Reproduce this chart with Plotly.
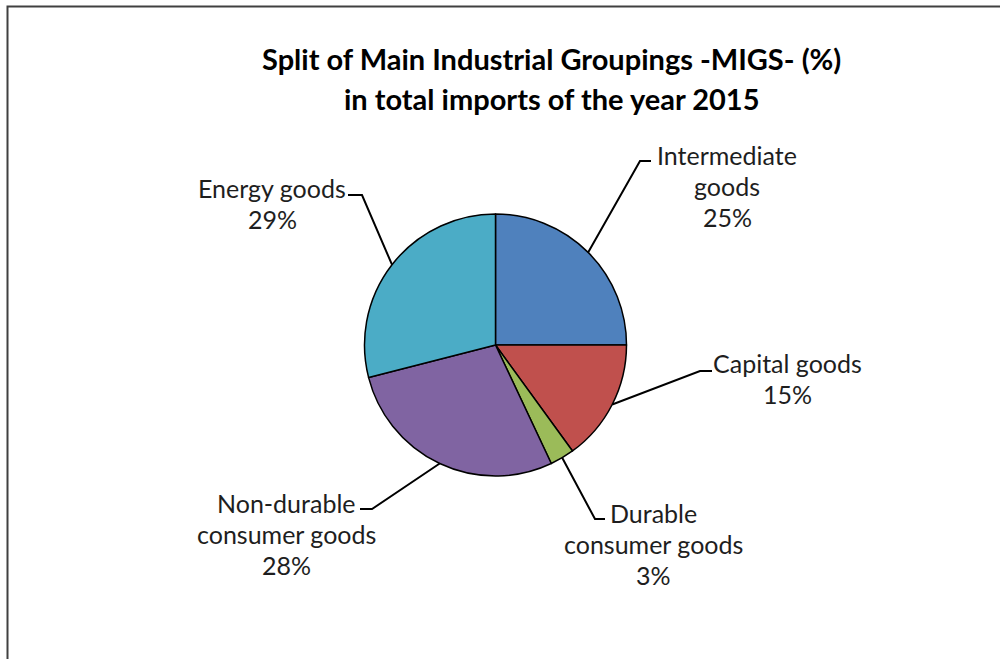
import math
import plotly.graph_objects as go

# ---- data ----
categories = ["Intermediate goods", "Capital goods", "Durable consumer goods",
              "Non-durable consumer goods", "Energy goods"]
shares = [25, 15, 3, 28, 29]
label_lines = [["Intermediate", "goods"], ["Capital goods"], ["Durable", "consumer goods"],
               ["Non-durable", "consumer goods"], ["Energy goods"]]
colors = ["#4F81BD", "#C0504D", "#9BBB59", "#8064A2", "#4BACC6"]
title_lines = ["Split of Main Industrial Groupings -MIGS- (%)",
               "in total imports of the year 2015"]

# ---- layout / style (pixels) ----
W, H = 1000, 659
CX, CY, R = 495.5, 345.0, 131.0
# per-slice: elbow point, end of horizontal tick, label block centre x, first-line y
label_style = [
    dict(elbow=(640, 161), end=(651, 161), x=727, y0=155),
    dict(elbow=(700, 371), end=(712, 371), x=787, y0=363),
    dict(elbow=(595, 519), end=(605, 519), x=653, y0=513),
    dict(elbow=(372, 509), end=(360, 509), x=286, y0=503),
    dict(elbow=(362, 195), end=(348, 195), x=272, y0=188),
]
LINE_H = 31
FONT = "Lato"


def px(x):
    return x / W


def py(y):
    return 1 - y / H


fig = go.Figure()
fig.add_trace(go.Pie(
    labels=categories, values=shares, sort=False, direction="clockwise", rotation=0,
    marker=dict(colors=colors, line=dict(color="black", width=1.5)),
    textinfo="none", hoverinfo="label+percent", showlegend=False,
    domain=dict(x=[px(CX - R), px(CX + R)], y=[py(CY + R), py(CY - R)]),
))

shapes = []
annotations = []
total = sum(shares)
cum = 0.0
for i, v in enumerate(shares):
    mid = (cum + v / 2) / total * 2 * math.pi
    cum += v
    ex = CX + R * math.sin(mid)
    ey = CY - R * math.cos(mid)
    st = label_style[i]
    path = "M {:.4f},{:.4f} L {:.4f},{:.4f} L {:.4f},{:.4f}".format(
        px(ex), py(ey), px(st["elbow"][0]), py(st["elbow"][1]),
        px(st["end"][0]), py(st["end"][1]))
    shapes.append(dict(type="path", path=path, xref="paper", yref="paper",
                       line=dict(color="black", width=2)))
    lines = label_lines[i] + ["{}%".format(v)]
    for j, t in enumerate(lines):
        annotations.append(dict(
            text=t, x=px(st["x"]), y=py(st["y0"] + j * LINE_H), xref="paper", yref="paper",
            xanchor="center", yanchor="middle", showarrow=False,
            font=dict(family=FONT, size=25, color="#1e1e1e")))

for j, t in enumerate(title_lines):
    annotations.append(dict(
        text="<b>{}</b>".format(t), x=px(551), y=py(58 + j * 40), xref="paper", yref="paper",
        xanchor="center", yanchor="middle", showarrow=False,
        font=dict(family=FONT, size=29, color="black")))

# chart frame (top and left edges visible)
shapes.append(dict(type="path", xref="paper", yref="paper",
                   path="M {:.4f},{:.4f} L {:.4f},{:.4f} L {:.4f},{:.4f}".format(
                       px(7.5), py(H + 5), px(7.5), py(6.5), px(W + 5), py(6.5)),
                   line=dict(color="#404040", width=2)))

fig.update_layout(
    width=W, height=H, margin=dict(l=0, r=0, t=0, b=0),
    paper_bgcolor="white", plot_bgcolor="white",
    shapes=shapes, annotations=annotations,
)
fig.write_html("out.html")
